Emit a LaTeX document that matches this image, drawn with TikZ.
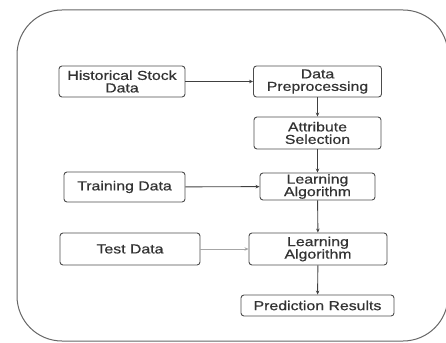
\documentclass[tikz,border=0pt]{standalone}
\usepackage{fontspec}
\setmainfont{Liberation Sans}[FakeStretch=1.22,FakeBold=0.6]
\usetikzlibrary{arrows.meta}

\tikzset{
  stepbox/.style={draw=black!70, line width=0.9pt, rounded corners=3pt, align=center,
    inner sep=0pt, font=\fontsize{13}{12.5}\selectfont, text=black!80},
  flow/.style={draw=black!75, line width=0.9pt, -{Stealth[length=4pt,width=3.5pt]}},
  faint/.style={draw=black!35, line width=0.8pt, -{Stealth[length=4pt,width=3.5pt,fill=black!60]}}
}

\begin{document}
\begin{tikzpicture}[x=1pt,y=-1pt]
\useasboundingbox (0,0) rectangle (446,342);

% Outer frame
\draw[black!60, line width=1pt, rounded corners=45pt] (17,10) rectangle (448,341);

% Left column of inputs
\node[stepbox, minimum width=126pt, minimum height=31pt] (hist)  at (122,81.5) {Historical Stock\\Data};
\node[stepbox, minimum width=121pt, minimum height=30pt] (train) at (124.5,187) {Training Data};
\node[stepbox, minimum width=140pt, minimum height=32pt] (test)  at (130,249) {Test Data};

% Right column of steps
\node[stepbox, minimum width=128pt, minimum height=31pt] (prep)  at (317.5,81.5) {Data\\Preprocessing};
\node[stepbox, minimum width=127pt, minimum height=32pt] (attr)  at (317.5,133) {Attribute\\Selection};
\node[stepbox, minimum width=115pt, minimum height=27pt] (learnA) at (317.5,186.5) {Learning\\Algorithm};
\node[stepbox, minimum width=138pt, minimum height=32pt] (learnB) at (318,249) {Learning\\Algorithm};
\node[stepbox, minimum width=153pt, minimum height=21pt] (pred)  at (317.5,305.5) {Prediction Results};

% Connectors
\draw[flow] (hist) -- (prep);
\draw[flow] (prep) -- (attr);
\draw[flow] (attr) -- (learnA);
\draw[flow] (train) -- (learnA);
\draw[flow] (learnA) -- (learnB);
\draw[faint] (test) -- (learnB);
\draw[flow] (learnB) -- (pred);

\end{tikzpicture}
\end{document}
